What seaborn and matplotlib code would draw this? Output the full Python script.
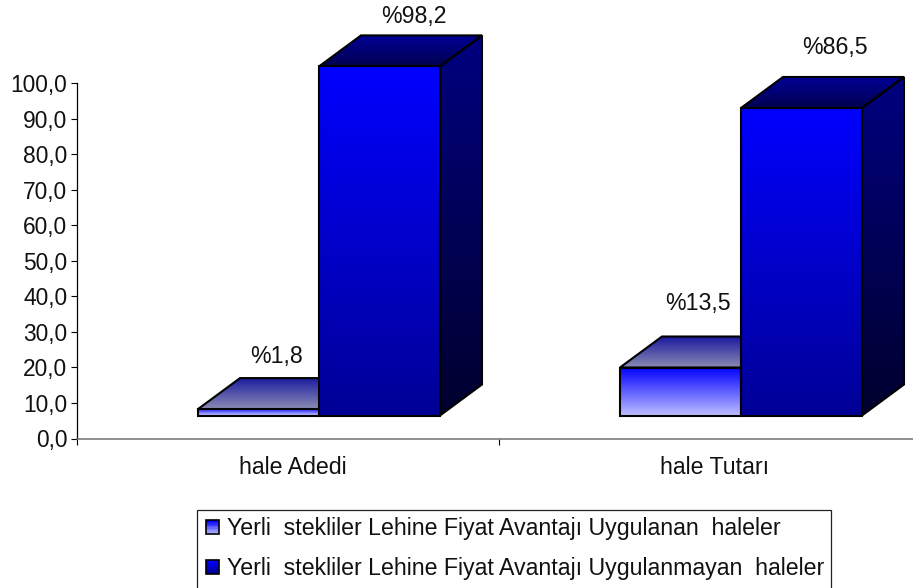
import numpy as np
import pandas as pd
import seaborn as sns
import matplotlib
matplotlib.use("Agg")
import matplotlib.pyplot as plt
from matplotlib.colors import LinearSegmentedColormap
from matplotlib.legend_handler import HandlerBase
from matplotlib.patches import Patch, Polygon, Rectangle

categories = ["hale Adedi", "hale Tutarı"]
series_names = [
    "Yerli  stekliler Lehine Fiyat Avantajı Uygulanan  haleler",
    "Yerli  stekliler Lehine Fiyat Avantajı Uygulanmayan  haleler",
]
applied = [1.8, 13.5]
not_applied = [98.2, 86.5]
value_labels = [["%1,8", "%13,5"], ["%98,2", "%86,5"]]
y_ticks = list(range(0, 101, 10))

# gradient colours per series: front, top, side (top colour -> bottom colour)
front_cols = [("#0000ff", "#bcbcff"), ("#0000ff", "#000096")]
top_cols = [("#1c1ca0", "#8c8cb4"), ("#000096", "#000050")]
side_cols = [("#000082", "#000082"), ("#000080", "#00002e")]

W, H = 913, 588
AX_L, AX_R, AX_T, AX_B = 77, 921, 83, 438.5
PX_X = (AX_R - AX_L) / 2
PX_Y = (AX_B - AX_T) / 100
FRONT_DX = 31 / PX_X      # 3d front face offset from the category centre
FRONT_DY = 23 / PX_Y
DEPTH_X = 42 / PX_X
DEPTH_Y = 31 / PX_Y
LABEL_DX = 5 / PX_X       # category labels sit a little right of the centre
# label offsets from the bar's top front centre, in pixels
label_off = [[(18, 53), (17, 64)], [(34, 50), (33, 60)]]
FS = 16.7

sns.set_theme(style="white")
plt.rcParams["font.family"] = ["Liberation Sans", "DejaVu Sans"]
plt.rcParams["text.color"] = "#111111"

df = pd.DataFrame({
    "cat": categories * 2,
    "series": [series_names[0]] * 2 + [series_names[1]] * 2,
    "val": applied + not_applied,
})

fig = plt.figure(figsize=(W / 100, H / 100), dpi=100)
ax = fig.add_axes([AX_L / W, 1 - AX_B / H, (AX_R - AX_L) / W, (AX_B - AX_T) / H])

sns.barplot(data=df, x="cat", y="val", hue="series", hue_order=series_names, order=categories,
            width=242 / PX_X, gap=0, legend=False, ax=ax, bottom=FRONT_DY,
            color="#0000ff", linewidth=0, clip_on=False)


def grad_face(pts, cols, z):
    poly = Polygon(pts, closed=True, fc="none", ec="black", lw=1.5, joinstyle="miter",
                   clip_on=False, zorder=z + 0.1)
    ax.add_patch(poly)
    xs, ys = zip(*pts)
    cmap = LinearSegmentedColormap.from_list("g", cols)
    im = ax.imshow(np.linspace(0, 1, 256).reshape(-1, 1), cmap=cmap, aspect="auto",
                   extent=(min(xs), max(xs), min(ys), max(ys)), origin="upper", zorder=z)
    im.set_clip_box(fig.bbox)
    im.set_clip_path(poly)


n_cat = len(categories)
for s, bars in enumerate(ax.containers):
    for c, p in enumerate(bars):
        p.set_x(p.get_x() + FRONT_DX)
        p.set_visible(False)
        x0, x1 = p.get_x(), p.get_x() + p.get_width()
        y0, y1 = p.get_y(), p.get_y() + p.get_height()
        z = 3 + s
        grad_face([(x0, y1), (x1, y1), (x1 + DEPTH_X, y1 + DEPTH_Y), (x0 + DEPTH_X, y1 + DEPTH_Y)],
                  top_cols[s], z)
        grad_face([(x1, y0), (x1 + DEPTH_X, y0 + DEPTH_Y), (x1 + DEPTH_X, y1 + DEPTH_Y), (x1, y1)],
                  side_cols[s], z)
        grad_face([(x0, y0), (x1, y0), (x1, y1), (x0, y1)], front_cols[s], z + 0.3)
        ox, oy = label_off[s][c]
        ax.annotate(value_labels[s][c], ((x0 + x1) / 2, y1), xytext=(ox * 0.72, oy * 0.72),
                    textcoords="offset points", ha="center", va="center", fontsize=FS,
                    annotation_clip=False, zorder=8)

ax.set_xlim(-0.5, 1.5)
ax.set_ylim(0, 100)
ax.set_xlabel("")
ax.set_ylabel("")

ax.set_yticks(y_ticks)
ax.set_yticklabels([f"{t:.1f}".replace(".", ",") for t in y_ticks])
ax.set_xticks([-0.5, 0.5, 1.5])
ax.set_xticklabels([])
ax.set_xticks([i + LABEL_DX for i in range(n_cat)], labels=categories, minor=True)
ax.tick_params(axis="y", which="major", left=True, length=4.5, width=0.8, color="black",
               labelsize=16.4, pad=2.6, labelcolor="#111111")
ax.tick_params(axis="x", which="major", bottom=True, length=4.5, width=0.8, color="black")
ax.tick_params(axis="x", which="minor", bottom=False, labelsize=FS, pad=8.5, labelcolor="#111111")

sns.despine(ax=ax, top=True, right=True)
ax.spines["left"].set_color("black")
ax.spines["left"].set_linewidth(0.9)
ax.spines["bottom"].set_color("#707070")
ax.spines["bottom"].set_linewidth(1.1)
ax.patch.set_alpha(0)


class GradHandler(HandlerBase):
    def __init__(self, cols):
        super().__init__()
        self.cols = cols

    def create_artists(self, legend, orig, xd, yd, width, height, fontsize, trans):
        side = 10
        x0 = (width - side) / 2 - xd
        y0 = (height - side) / 2 - yd
        cmap = LinearSegmentedColormap.from_list("h", self.cols)
        stripes = []
        for i in range(10):
            stripes.append(Rectangle((x0, y0 + side - (i + 1) * side / 10), side, side / 10,
                                     fc=cmap(i / 9), ec="none", transform=trans))
        stripes.append(Rectangle((x0, y0), side, side, fc="none", ec="black", lw=1.2, transform=trans))
        return stripes


# frame runs off the bottom of the picture, so it is drawn apart from the legend
fig.add_artist(Rectangle((196.5 / W, -0.02), (831 - 196.5) / W, 1 - 509.5 / H + 0.02,
                         transform=fig.transFigure, fc="white", ec="#222222", lw=0.9, zorder=5))
handles = [Patch(label=series_names[0]), Patch(label=series_names[1])]
leg = fig.legend(handles=handles, loc="upper left", bbox_to_anchor=(198 / W, 1 - 517.5 / H),
                 frameon=False, fontsize=FS, handlelength=1.25, handletextpad=0.02,
                 labelspacing=0.71, borderpad=0, borderaxespad=0,
                 handler_map={handles[0]: GradHandler(front_cols[0]),
                              handles[1]: GradHandler(front_cols[1])})
leg.set_zorder(6)

fig.savefig("out.png", dpi=100)
